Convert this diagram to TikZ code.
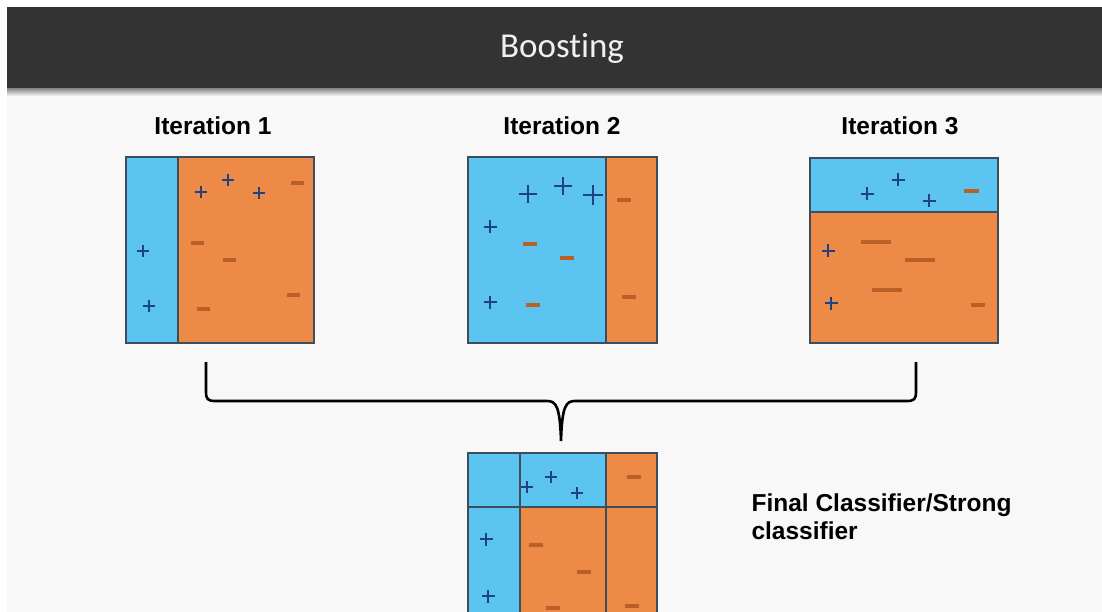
\documentclass[tikz,border=0pt]{standalone}
\usepackage{fontspec}
\setmainfont{Liberation Sans}
\newfontfamily\barfont[Ligatures=NoCommon]{Carlito}
\usepackage{tikz}
\usetikzlibrary{arrows.meta}
\definecolor{barcol}{HTML}{333333}
\definecolor{bgcol}{HTML}{F8F8F8}
\definecolor{skyblue}{HTML}{5BC4F0}
\definecolor{carrot}{HTML}{EE8A47}
\definecolor{edgecol}{HTML}{3D4D5C}
\definecolor{plusblue}{HTML}{1E437E}
\definecolor{minusbrown}{HTML}{B95F28}
\tikzset{%
    bluepart/.style={fill=skyblue, draw=edgecol, line width=1.6pt},
    orangepart/.style={fill=carrot, draw=edgecol, line width=1.6pt},
    plussign/.pic={\draw[plusblue, line width=2.4pt] (-#1,0) -- (#1,0) (0,-#1) -- (0,#1);},
    minussign/.pic={\draw[minusbrown, line width=3.8pt] (-#1,0) -- (#1,0);},
    itlabel/.style={font=\fontsize{24.5}{28}\bfseries\selectfont, anchor=base}
}
\begin{document}
\begin{tikzpicture}[x=1pt,y=-1pt]
\useasboundingbox (0,0) rectangle (1102,612);
\fill[white] (0,0) rectangle (1102,612);
\fill[bgcol] (7,7) rectangle (1102,612);
\shade[top color=black!55, bottom color=bgcol] (7,87) rectangle (1102,96);
\fill[barcol] (7,7) rectangle (1102,88);
\node[text=white!94!black, anchor=base, font=\barfont\fontsize{35}{38}\selectfont] (title) at (562,58) {Boosting};

\node[itlabel] (lab1) at (213,135) {Iteration 1};
\node[itlabel] (lab2) at (562,135) {Iteration 2};
\node[itlabel] (lab3) at (900,135) {Iteration 3};

% iteration 1
\draw[orangepart] (178,157) rectangle (314,343);
\draw[bluepart] (126,157) rectangle (178,343);
\pic at (201,192) {plussign=6};
\pic at (228,180) {plussign=6};
\pic at (259,193) {plussign=6};
\pic at (143,251) {plussign=6};
\pic at (149,306) {plussign=6};
\pic at (297,183) {minussign=6.5};
\pic at (197,243) {minussign=6.5};
\pic at (229,260) {minussign=6.5};
\pic at (293,295) {minussign=6.5};
\pic at (203,309) {minussign=6.5};

% iteration 2
\draw[bluepart] (468,157) rectangle (606,343);
\draw[orangepart] (606,157) rectangle (657,343);
\pic at (528,194) {plussign=9};
\pic at (563,186) {plussign=9};
\pic at (593,195) {plussign=10};
\pic at (490,227) {plussign=6.5};
\pic at (490,302) {plussign=6.5};
\pic at (624,200) {minussign=7};
\pic at (530,244) {minussign=7};
\pic at (567,258) {minussign=7};
\pic at (533,305) {minussign=7};
\pic at (629,297) {minussign=7};

% iteration 3
\draw[orangepart] (810,212) rectangle (998,343);
\draw[bluepart] (810,158) rectangle (998,212);
\pic at (867,194) {plussign=6.5};
\pic at (898,180) {plussign=6.5};
\pic at (929,201) {plussign=6.5};
\pic at (828,251) {plussign=6.5};
\pic at (831,303) {plussign=6.5};
\pic at (971,191) {minussign=7.5};
\pic at (876,242) {minussign=15};
\pic at (920,260) {minussign=15};
\pic at (887,290) {minussign=15};
\pic at (978,305) {minussign=7};

% combined
\draw[bluepart] (468,453) rectangle (520,507);
\draw[bluepart] (520,453) rectangle (606,507);
\draw[orangepart] (606,453) rectangle (657,507);
\draw[bluepart] (468,507) rectangle (520,625);
\draw[orangepart] (520,507) rectangle (606,625);
\draw[orangepart] (606,507) rectangle (657,625);
\pic at (527,487) {plussign=6};
\pic at (551,477) {plussign=6};
\pic at (577,493) {plussign=6};
\pic at (486,539) {plussign=6.5};
\pic at (488,596) {plussign=6.5};
\pic at (634,477) {minussign=7};
\pic at (536,545) {minussign=7};
\pic at (584,572) {minussign=7};
\pic at (553,608) {minussign=7};
\pic at (632,606) {minussign=7};

\coordinate (left) at (206,362);
\coordinate (right) at (916,362);
\coordinate (tip) at (561,441);
\draw[line width=2.6pt] (left) -- (206,392) .. controls (206,399) and (208,401) .. (215,401)
    -- (547,401) .. controls (556,401) and (560,406) .. (tip)
    .. controls (562,406) and (566,401) .. (575,401) -- (907,401)
    .. controls (914,401) and (916,399) .. (916,392) -- (right);

\node[anchor=base west, align=left, font=\fontsize{24.5}{28}\bfseries\selectfont] (final) at (748,539) {Final Classifier/Strong\\classifier};
\end{tikzpicture}
\end{document}
